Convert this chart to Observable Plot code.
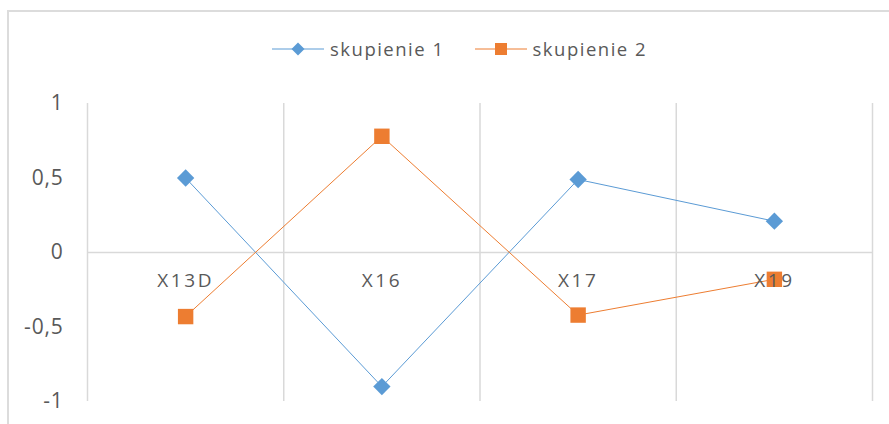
<!DOCTYPE html>
<html>
<head>
<meta charset="utf-8">
<script src="https://cdn.jsdelivr.net/npm/d3@7"></script>
<script src="https://cdn.jsdelivr.net/npm/@observablehq/plot@0.6"></script>
<style>
  html, body { margin: 0; padding: 0; background: #fff; overflow: hidden; }
  #wrap { position: relative; width: 889px; height: 424px; font-family: "Open Sans", sans-serif; color: #595959; }
  #frame { position: absolute; left: 7px; top: 10px; width: 900px; height: 430px; border-top: 2px solid #dcdcdc; border-left: 2px solid #dcdcdc; box-sizing: border-box; }
  #legend { position: relative; height: 70px; }
  #legend .items { position: absolute; left: 272px; top: 38px; height: 22px; display: flex; align-items: center; }
  #legend .item { display: flex; align-items: center; }
  #legend .item span { font-size: 18.5px; letter-spacing: 1.5px; margin-left: 6px; line-height: 22px; }
  #legend .item + .item { margin-left: 30px; }
  #chart { position: relative; }
  svg { display: block; }
  #chart g[aria-label="text"] text { letter-spacing: 2.6px; }
  #chart g[aria-label="y-axis tick label"] text { letter-spacing: 0.8px; }
</style>
</head>
<body>
<div id="wrap">
  <div id="frame"></div>
  <div id="legend"><div class="items"></div></div>
  <div id="chart"></div>
</div>
<script>
const categories = ["X13D", "X16", "X17", "X19"];
const seriesNames = ["skupienie 1", "skupienie 2"];
const seriesColors = ["#5b9bd5", "#ed7d31"];
const skupienie1 = [0.50, -0.90, 0.49, 0.21];
const skupienie2 = [-0.43, 0.78, -0.42, -0.18];
const yTicks = [-1, -0.5, 0, 0.5, 1];

const data1 = categories.map((c, i) => ({i, cat: c, v: skupienie1[i]}));
const data2 = categories.map((c, i) => ({i, cat: c, v: skupienie2[i]}));
const bounds = d3.range(-0.5, categories.length, 1);

// Legend
const items = document.querySelector("#legend .items");
const symbols = ["diamond", "square"];
seriesNames.forEach((name, k) => {
  const it = document.createElement("div");
  it.className = "item";
  const col = seriesColors[k];
  const marker = symbols[k] === "diamond"
    ? `<path d="M26,4.5 L32.5,11 L26,17.5 L19.5,11 Z" fill="${col}"/>`
    : `<rect x="20" y="5" width="12" height="12" fill="${col}"/>`;
  it.innerHTML = `<svg width="52" height="22"><line x1="0" x2="52" y1="11" y2="11" stroke="${col}" stroke-width="1"/>${marker}</svg><span>${name}</span>`;
  items.appendChild(it);
});

const fontFamily = '"Open Sans", sans-serif';
const chart = Plot.plot({
  width: 889,
  height: 354,
  marginLeft: 87,
  marginRight: 17,
  marginTop: 33,
  marginBottom: 23,
  x: {domain: [-0.5, categories.length - 0.5], axis: null},
  y: {domain: [-1, 1], axis: null},
  style: {fontFamily, color: "#595959", background: "transparent"},
  marks: [
    Plot.ruleX(bounds, {y1: -1, y2: 1, stroke: "#d9d9d9", strokeWidth: 1.5}),
    Plot.ruleY([0], {stroke: "#d9d9d9", strokeWidth: 1.5}),
    Plot.axisY(yTicks, {
      tickSize: 0, tickPadding: 24, label: null,
      tickFormat: d => String(d).replace(".", ","),
      fontSize: 21, fill: "#595959"
    }),
    Plot.line(data1, {x: "i", y: "v", stroke: seriesColors[0], strokeWidth: 1}),
    Plot.line(data2, {x: "i", y: "v", stroke: seriesColors[1], strokeWidth: 1}),
    Plot.dot(data1, {x: "i", y: "v", symbol: "diamond2", r: 7.8, fill: seriesColors[0], stroke: null}),
    Plot.dot(data2, {x: "i", y: "v", symbol: "square", r: 8.7, fill: seriesColors[1], stroke: null}),
    Plot.text(data1, {x: "i", y: 0, text: "cat", dy: 28, fontSize: 19, fill: "#595959"})
  ]
});
document.getElementById("chart").appendChild(chart);
</script>
</body>
</html>
